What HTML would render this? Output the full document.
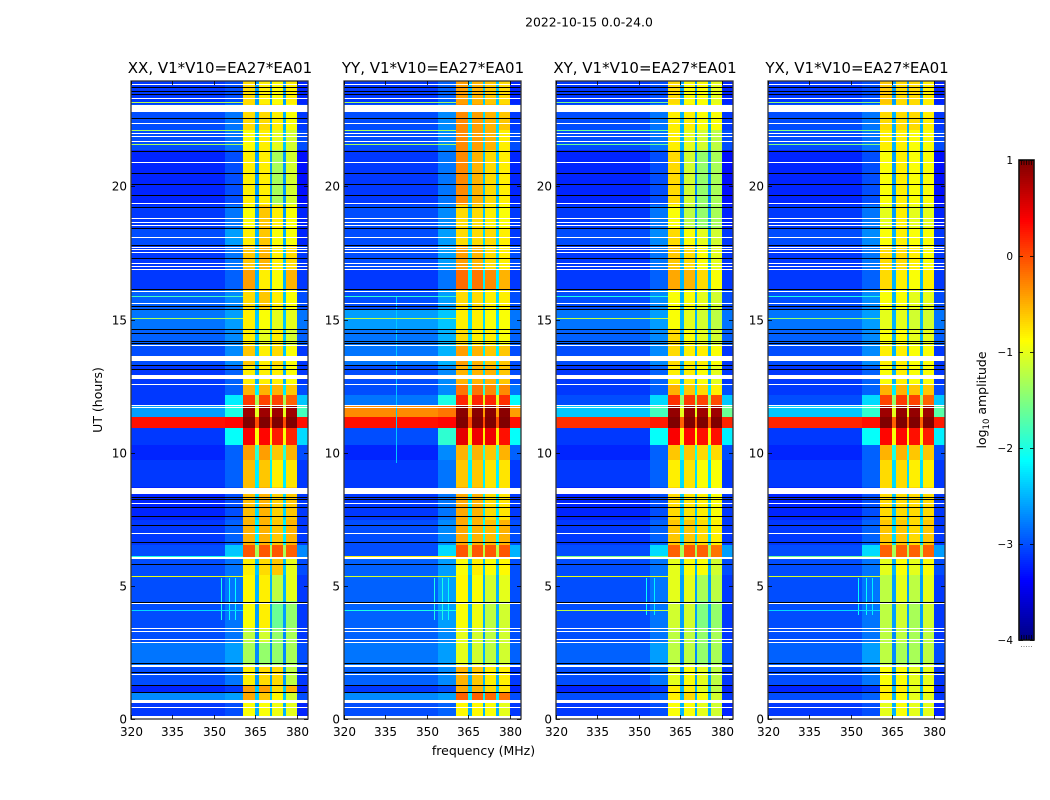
<!DOCTYPE html>
<html lang="en">
<head>
<meta charset="utf-8">
<title>2022-10-15 0.0-24.0</title>
<style>
html,body{margin:0;padding:0;background:#fff;width:1050px;height:800px;overflow:hidden}
svg{display:block}
text{font-family:"DejaVu Sans","Liberation Sans",sans-serif;fill:#000}
</style>
</head>
<body>
<svg id="chart" xmlns="http://www.w3.org/2000/svg" width="1050" height="800" viewBox="0 0 1050 800">
  <text x="589" y="26.500" font-size="12.400" text-anchor="middle">2022-10-15 0.0-24.0</text>
  <text x="483.500" y="755" font-size="12.500" text-anchor="middle">frequency (MHz)</text>
  <text x="102" y="400" font-size="12.500" text-anchor="middle" transform="rotate(-90 102 400)">UT (hours)</text>
  <text x="986" y="400" font-size="12.500" text-anchor="middle" transform="rotate(-90 986 400)">log<tspan font-size="8.500" dy="3">10</tspan><tspan dy="-3"> amplitude</tspan></text>
  <g id="panels"></g>
  <g id="colorbar"></g>
</svg>
<script>
// ---------- data ----------
const polarisations = ["XX", "YY", "XY", "YX"];
const xTickValues = [320, 335, 350, 365, 380];
const yTickValues = [0, 5, 10, 15, 20];
const colorTickValues = [1, 0, -1, -2, -3, -4];

// Time-band boundaries (UT hours, top to bottom of the plot)
const utEdges = [23.96,23.09,22.12,21.37,19.30,18.44,17.80,16.86,16.11,15.36,14.61,14.04,13.26,12.54,12.17,11.75,11.34,10.93,10.29,9.73,8.71,7.47,6.53,6.05,5.41,4.43,3.42,2.85,2.03,1.28,1.01,0.68,0];

// log10 amplitude per band; columns: left, mid, sub-band 1..4, gap, right
const xxBands = [
[-3.1,-3.0,-.7,-.8,-.9,-.8,-2.6,-3.2],[-3.0,-2.8,-.7,-.7,-.8,-.9,-2.5,-3.1],[-3.0,-2.8,-.9,-.8,-1.0,-1.1,-2.4,-3.0],[-3.2,-3.0,-.8,-.8,-1.3,-1.1,-2.6,-3.3],
[-3.1,-2.8,-.9,-.6,-.8,-.9,-2.6,-3.2],[-3.0,-2.6,-.8,-.6,-.9,-.9,-2.5,-3.2],[-3.1,-2.8,-.6,-.5,-.8,-.7,-2.4,-3.1],[-3.1,-2.9,-.4,-.8,-.9,-.5,-2.5,-3.1],
[-2.9,-2.7,-.7,-.6,-.8,-.9,-2.4,-3.0],[-2.8,-2.6,-.8,-.9,-1.0,-1.0,-2.4,-2.8],[-2.9,-2.7,-.8,-1.0,-.8,-1.1,-2.4,-2.9],[-3.0,-2.7,-.6,-.8,-.7,-.9,-2.4,-3.1],
[-3.1,-2.9,-.8,-.8,-.8,-.9,-2.5,-3.1],[-3.1,-2.9,-.5,-.5,-.5,-.6,-2.2,-3.0],[-3.1,-2.2,.1,.05,.05,-.1,-1.3,-2.4],[-2.6,-2.0,.85,.85,.85,.85,-1.0,-1.8],
[.3,.35,1,1,1,1,0,.3],[-3.1,-2.1,.4,.35,.25,.2,-.9,-2.3],[-3.2,-2.9,-.4,-.4,-.6,-.5,-1.9,-3.0],[-3.1,-2.9,-.55,-.6,-.8,-.75,-2.2,-3.1],
[-3.2,-3.0,-.55,-.5,-.65,-.6,-2.3,-3.1],[-3.1,-2.9,-.5,-.5,-.6,-.5,-2.2,-3.1],[-3.0,-2.4,-.05,-.05,-.05,-.1,-1.3,-2.7],[-3.0,-2.8,-.8,-.7,-.6,-1.0,-2.4,-3.0],
[-3.0,-2.8,-.85,-.8,-1.2,-1.0,-2.5,-3.1],[-3.0,-2.8,-.9,-.8,-1.6,-1.4,-2.6,-3.1],[-3.0,-2.8,-1.2,-1.1,-1.4,-1.3,-2.7,-3.1],[-2.8,-2.6,-1.3,-1.4,-1.4,-1.3,-2.7,-3.0],
[-3.0,-2.8,-.8,-.7,-.7,-1.2,-2.6,-3.1],[-3.2,-3.1,-.4,-.4,-.7,-.5,-2.4,-3.2],[-2.7,-2.6,-.45,-.6,-.85,-1.1,-2.4,-3.0],[-3.1,-3.0,-.9,-.9,-.95,-1.0,-2.5,-3.2]
];
const yyBands = [
[-3.1,-2.9,-.4,-.5,-.6,-.7,-2.4,-3.2],[-3.0,-2.7,-.3,-.4,-.5,-.6,-2.3,-3.1],[-3.0,-2.7,-.3,-.4,-.5,-.8,-2.3,-3.0],[-3.1,-2.8,-.3,-.5,-.7,-.8,-2.4,-3.2],
[-3.0,-2.7,-.7,-.7,-.8,-.9,-2.4,-3.1],[-3.0,-2.6,-.7,-.7,-.7,-.8,-2.3,-3.1],[-3.0,-2.6,-.4,-.5,-.7,-.8,-2.3,-3.0],[-3.1,-2.8,-.15,-.2,-.3,-.5,-2.2,-3.1],
[-3.0,-2.6,-.7,-.7,-.8,-.8,-2.3,-3.0],[-2.6,-2.4,-.8,-.8,-.9,-.9,-2.3,-2.8],[-2.8,-2.5,-.7,-.8,-.8,-.9,-2.3,-2.9],[-2.8,-2.5,-.4,-.5,-.6,-.6,-2.2,-3.0],
[-3.0,-2.7,-.5,-.5,-.5,-.6,-2.3,-3.0],[-3.0,-2.7,-.2,-.2,-.3,-.3,-1.9,-2.8],[-2.8,-2.0,.2,.2,.2,.15,-1.0,-2.1],[-.3,-.2,.95,.95,.95,.95,-.4,-.4],
[.3,.35,1,1,1,1,0,.3],[-3.0,-1.9,.5,.45,.45,.3,-.8,-2.1],[-3.2,-2.7,-.5,-.5,-.6,-.5,-1.9,-2.9],[-3.1,-2.8,-.6,-.6,-.75,-.75,-2.2,-3.1],
[-3.1,-2.8,-.45,-.5,-.7,-.75,-2.2,-3.1],[-3.0,-2.7,-.45,-.5,-.55,-.5,-2.1,-3.0],[-3.0,-2.3,-.05,-.05,-.05,-.05,-1.2,-2.5],[-2.9,-2.6,-.9,-.8,-.9,-.85,-2.4,-3.0],
[-2.9,-2.6,-.85,-.9,-1.1,-1,-2.5,-3.0],[-2.9,-2.6,-.9,-.95,-1.2,-1.1,-2.5,-3.0],[-2.9,-2.7,-1.0,-1.1,-1.2,-1.1,-2.6,-3.0],[-2.8,-2.6,-1.0,-1.1,-1.2,-1.1,-2.5,-2.9],
[-2.9,-2.7,-.5,-.6,-.8,-.8,-2.5,-3.1],[-3.1,-3.0,-.45,-.5,-.7,-.75,-2.4,-3.2],[-2.7,-2.6,-.1,-.1,-.15,-.2,-2.2,-3.0],[-3.0,-2.9,-.85,-.85,-.9,-1,-2.5,-3.1]
];
const xyBands = [
[-3.1,-3.0,-.7,-.9,-.9,-1,-2.6,-3.2],[-3.0,-2.8,-.8,-.8,-.9,-.9,-2.5,-3.1],[-3.0,-2.8,-.8,-1.0,-1.1,-1.2,-2.5,-3.0],[-3.2,-3.0,-.7,-1.1,-1.4,-1.3,-2.7,-3.3],
[-3.1,-2.8,-.9,-1.2,-1.4,-1.3,-2.6,-3.2],[-3.0,-2.7,-.7,-.9,-1,-1.1,-2.5,-3.1],[-3.1,-2.8,-.6,-.7,-.9,-1,-2.5,-3.1],[-3.1,-2.9,-.45,-.5,-.7,-.9,-2.5,-3.1],
[-3.0,-2.7,-.9,-.9,-1,-1.1,-2.5,-3.0],[-2.8,-2.6,-.9,-1,-1.1,-1.2,-2.5,-2.8],[-2.9,-2.7,-.7,-.9,-1,-1.1,-2.5,-2.9],[-3.0,-2.7,-.7,-.8,-.8,-.9,-2.5,-3.1],
[-3.1,-2.9,-.8,-.8,-.9,-1,-2.5,-3.1],[-3.1,-2.9,-.5,-.6,-.7,-.8,-2.2,-3.0],[-3.0,-2.3,.15,.1,.05,0,-1.4,-2.4],[-2.4,-1.8,.9,.9,.85,.85,-1.0,-1.6],
[.15,.25,1,1,1,1,-.1,.2],[-3.1,-2.1,.4,.35,.3,.3,-.9,-2.2],[-3.2,-2.9,-.6,-.6,-.7,-.7,-2.0,-3.0],[-3.1,-2.9,-.8,-.75,-.9,-.9,-2.3,-3.1],
[-3.2,-3.0,-.7,-.75,-.8,-.9,-2.4,-3.1],[-3.1,-2.9,-.6,-.6,-.7,-.8,-2.3,-3.1],[-3.0,-2.3,-.1,-.05,-.1,-.2,-1.3,-2.6],[-3.0,-2.8,-1,-.9,-.9,-1.1,-2.5,-3.0],
[-3.0,-2.8,-1,-1.0,-1.3,-1.2,-2.6,-3.1],[-3.0,-2.8,-1.1,-1.1,-1.5,-1.4,-2.6,-3.1],[-3.0,-2.8,-1.2,-1.2,-1.4,-1.3,-2.7,-3.1],[-2.9,-2.6,-1.2,-1.2,-1.4,-1.3,-2.7,-3.0],
[-3.0,-2.8,-1,-.9,-1,-1.2,-2.6,-3.1],[-3.2,-3.1,-.8,-.8,-1,-1.2,-2.5,-3.2],[-3.0,-2.9,-.8,-.7,-.9,-1.1,-2.5,-3.1],[-3.1,-3.0,-.9,-.9,-1,-1.1,-2.5,-3.2]
];
const yxBands = [
[-3.1,-3.0,-.6,-.7,-.7,-.8,-2.6,-3.2],[-3.0,-2.8,-.7,-.7,-.7,-.8,-2.5,-3.1],[-3.0,-2.8,-.8,-.8,-.9,-.9,-2.5,-3.0],[-3.2,-3.0,-.9,-.8,-.9,-.9,-2.6,-3.3],
[-3.1,-2.8,-1,-.8,-1,-1,-2.6,-3.2],[-3.0,-2.7,-.9,-.8,-.9,-.9,-2.5,-3.1],[-3.1,-2.8,-.7,-.7,-.8,-.9,-2.5,-3.1],[-3.1,-2.9,-.7,-.8,-.9,-.8,-2.5,-3.1],
[-3.0,-2.7,-.9,-.9,-1,-1,-2.5,-3.0],[-2.8,-2.6,-1,-1,-1.1,-1.1,-2.5,-2.8],[-2.9,-2.7,-.9,-.9,-1,-1,-2.5,-2.9],[-3.0,-2.7,-.8,-.8,-.9,-.9,-2.5,-3.1],
[-3.1,-2.9,-.9,-.8,-.9,-.9,-2.5,-3.1],[-3.1,-2.9,-.5,-.5,-.6,-.6,-2.2,-3.0],[-3.0,-2.3,.05,.1,.05,-.1,-1.4,-2.4],[-2.4,-1.9,.85,.9,.9,.85,-1.0,-1.7],
[.2,.3,1,1,1,1,-.1,.25],[-3.1,-2.1,.35,.35,.3,.25,-.9,-2.2],[-3.2,-2.9,-.5,-.5,-.6,-.6,-2.0,-3.0],[-3.1,-2.9,-.7,-.7,-.8,-.8,-2.3,-3.1],
[-3.2,-3.0,-.7,-.7,-.7,-.7,-2.4,-3.1],[-3.1,-2.9,-.6,-.6,-.7,-.6,-2.3,-3.1],[-3.0,-2.3,-.1,-.1,-.1,-.1,-1.3,-2.6],[-3.0,-2.8,-1,-.9,-1,-.9,-2.5,-3.0],
[-3.0,-2.8,-1.2,-1,-1.2,-1,-2.6,-3.1],[-3.0,-2.8,-1.2,-1.1,-1.3,-1.1,-2.6,-3.1],[-3.0,-2.8,-1.2,-1.2,-1.3,-1.2,-2.7,-3.1],[-2.9,-2.6,-1.2,-1.3,-1.3,-1.2,-2.7,-3.0],
[-3.0,-2.8,-.9,-.9,-1,-1,-2.6,-3.1],[-3.2,-3.1,-.8,-.8,-1,-.9,-2.5,-3.2],[-3.0,-2.9,-.8,-.9,-1,-1,-2.5,-3.1],[-3.1,-3.0,-1,-.9,-1,-1,-2.5,-3.2]
];
const bandTables = [xxBands, yyBands, xyBands, yxBands];

// Flagged rows: thin white lines, thick white gaps, black zero-amplitude rows (UT hours)
const whiteLines = [23.85,23.32,22.38,22.01,21.89,21.70,20.92,19.38,18.81,18.66,18.55,18.10,17.72,17.65,17.54,17.12,17.01,16.90,16.07,15.62,14.04,12.58,11.79,11.72,8.11,6.98,4.36,3.42,3.30,3.00,2.89,1.69,0.45];
const whiteGapStarts = [22.79,13.44,12.77,8.45,6.01,1.95,0.60,0];
const whiteGapEnds = [23.06,13.63,12.92,8.69,6.08,2.03,0.71,0.11];
const blackLines = [23.73,23.58,23.47,22.57,21.33,20.50,20.09,19.68,19.23,18.44,17.80,17.31,16.15,15.51,15.40,14.64,14.49,14.19,14.12,13.29,13.14,8.34,8.26,7.96,7.62,7.27,6.65,5.82,4.39,2.10,1.76,1.28,1.01];

// Interference rows: UT hour and level in each polarisation
const rfiHours = [23.17,22.12,21.59,19.21,18.10,15.88,15.06,6.12,5.37,4.09];
const rfiLevelsXX = [-1.2,-1.3,-1.3,-1.6,-1.3,-1.8,-1.3,-2.0,-1.0,-2.3];
const rfiLevelsYY = [-1.3,-1.3,-1.3,-1.7,-1.5,-1.9,-1.2,-0.8,-1.1,-2.0];
const rfiLevelsXY = [-1.5,-1.6,-1.6,-1.9,-1.6,-2.0,-1.2,-1.5,-1.0,-1.2];
const rfiLevelsYX = [-1.4,-1.5,-1.5,-1.8,-1.6,-2.0,-1.4,-1.6,-1.1,-2.3];
const rfiTables = [rfiLevelsXX, rfiLevelsYY, rfiLevelsXY, rfiLevelsYX];

// Interference channels: panel index, frequency (MHz), UT range, level
const rfiChannelPanels = [0,0,0,1,1,1,1,2,2,3,3,3];
const rfiChannelFreqs = [352.5,355.5,357.5,339,352.5,355.5,357.5,352.5,355.5,352.5,355.5,357.5];
const rfiChannelUtLow = [3.7,3.7,3.7,9.6,3.7,3.7,3.7,3.9,3.9,3.9,3.9,3.9];
const rfiChannelUtHigh = [5.3,5.3,5.3,15.9,5.3,5.3,5.3,5.3,5.3,5.3,5.3,5.3];
const rfiChannelLevels = [-2.0,-2.1,-2.1,-2.4,-2.0,-2.0,-2.1,-2.1,-2.2,-2.1,-2.1,-2.2];

// ---------- scales ----------
const SVGNS = "http://www.w3.org/2000/svg";
const FREQ_MIN = 320, FREQ_MAX = 384.1, UT_TOP = 23.96;
const PANEL_W = 177, PANEL_TOP = 81, PANEL_BOTTOM = 719;
const PANEL_OFFSET = { 0: 131, 1: 344, 2: 556, 3: 768 };
const CB_LEFT = 1019, CB_RIGHT = 1034, CB_TOP = 160, CB_BOTTOM = 640;
// frequency boundaries of the band columns (the gap column repeats three times)
const colStart = [320, 354, 360.6, 366.2, 371, 376, 365, 370.3, 375, 380];
const colEnd = [354, 360.6, 365, 370.3, 375, 380, 366.2, 371, 376, 384.1];
const colSource = [0, 1, 2, 3, 4, 5, 6, 6, 6, 7];

function xScale(f, left) { return left + (f - FREQ_MIN) / (FREQ_MAX - FREQ_MIN) * PANEL_W; }
function yScale(ut) { return PANEL_BOTTOM - ut * (PANEL_BOTTOM - PANEL_TOP) / UT_TOP; }
function cScale(v) { return CB_BOTTOM - (v + 4) / 5 * (CB_BOTTOM - CB_TOP); }

function jet(v) {
  const t = Math.max(0, Math.min(1, (v + 4) / 5));
  const ramp = (p) => Math.max(0, Math.min(1, 1.5 - Math.abs(4 * t - p)));
  const r = Math.round(255 * ramp(3));
  const g = Math.round(255 * ramp(2));
  const b = Math.round(255 * ramp(1));
  return "rgb(" + r + "," + g + "," + b + ")";
}
function make(tag, parent) {
  const el = document.createElementNS(SVGNS, tag);
  parent.appendChild(el);
  return el;
}
function hRow(parent, left, fromF, toF, yTop, yBot, fill) {
  const r = make("rect", parent);
  const x0 = Math.round(xScale(fromF, left));
  const x1 = Math.round(xScale(toF, left));
  r.setAttribute("x", x0);
  r.setAttribute("width", Math.max(1, x1 - x0));
  r.setAttribute("y", yTop);
  r.setAttribute("height", Math.max(1, yBot - yTop));
  r.setAttribute("fill", fill);
  r.setAttribute("shape-rendering", "crispEdges");
  return r;
}
function lineEl(parent, x1, y1, x2, y2, color, w) {
  const l = make("line", parent);
  l.setAttribute("x1", x1);
  l.setAttribute("y1", y1);
  l.setAttribute("x2", x2);
  l.setAttribute("y2", y2);
  l.setAttribute("stroke", color);
  l.setAttribute("stroke-width", w);
  return l;
}

// ---------- panels ----------
const root = document.getElementById("panels");
polarisations.forEach(function (pol, p) {
  const left = PANEL_OFFSET[p];
  const g = make("g", root);
  
  

  const title = make("text", g);
  
  
  title.setAttribute("x", left + PANEL_W / 2 + 0.5);
  title.setAttribute("y", 73);
  title.setAttribute("font-size", "15");
  title.setAttribute("text-anchor", "middle");
  title.textContent = pol + ", V1*V10=EA27*EA01";

  bandTables[p].forEach(function (row, b) {
    const yTop = Math.round(yScale(utEdges[b]));
    const yBot = Math.round(yScale(utEdges[b + 1]));
    colStart.forEach(function (fs, c) {
      const cell = hRow(g, left, fs, colEnd[c], yTop, yBot, jet(row[colSource[c]]));
      
      
    });
  });

  rfiChannelFreqs.forEach(function (f, i) {
    if (rfiChannelPanels[i] !== p) return;
    const ch = hRow(g, left, f, f + 0.3, Math.round(yScale(rfiChannelUtHigh[i])), Math.round(yScale(rfiChannelUtLow[i])), jet(rfiChannelLevels[i]));
    
    
  });

  rfiHours.forEach(function (ut, i) {
    const yy = Math.round(yScale(ut));
    const rfi = hRow(g, left, FREQ_MIN, 360.6, yy, yy + 1, jet(rfiTables[p][i]));
    
    
  });

  whiteGapStarts.forEach(function (ut, i) {
    const gap = hRow(g, left, FREQ_MIN, FREQ_MAX, Math.round(yScale(whiteGapEnds[i])), Math.round(yScale(ut)), "#fff");
    
    
  });
  whiteLines.forEach(function (ut) {
    const yy = Math.round(yScale(ut));
    const wl = hRow(g, left, FREQ_MIN, FREQ_MAX, yy, yy + 1, "#fff");
    
    
  });
  blackLines.forEach(function (ut) {
    const yy = Math.round(yScale(ut));
    const bl = hRow(g, left, FREQ_MIN, FREQ_MAX, yy, yy + 1, "#000");
    
    
  });

  const frame = make("rect", g);
  
  
  frame.setAttribute("x", left);
  frame.setAttribute("y", PANEL_TOP);
  frame.setAttribute("width", PANEL_W);
  frame.setAttribute("height", PANEL_BOTTOM - PANEL_TOP);
  frame.setAttribute("fill", "none");
  frame.setAttribute("stroke", "#333");
  frame.setAttribute("stroke-width", "1.3");

  xTickValues.forEach(function (f) {
    const px = Math.round(xScale(f, left)) + 0.5;
    const t1 = lineEl(g, px, PANEL_BOTTOM, px, PANEL_BOTTOM - 4, "#000", 0.8);
    
    
    const t2 = lineEl(g, px, PANEL_TOP, px, PANEL_TOP + 4, "#000", 0.8);
    
    
    const lab = make("text", g);
    
    
    lab.setAttribute("x", px);
    lab.setAttribute("y", 736);
    lab.setAttribute("font-size", "12");
    lab.setAttribute("text-anchor", "middle");
    lab.textContent = f;
  });
  yTickValues.forEach(function (ut) {
    const py = Math.round(yScale(ut)) + 0.5;
    const t1 = lineEl(g, left, py, left + 4, py, "#000", 0.8);
    
    
    const t2 = lineEl(g, left + PANEL_W, py, left + PANEL_W - 4, py, "#000", 0.8);
    
    
    const lab = make("text", g);
    
    
    lab.setAttribute("x", left - 4);
    lab.setAttribute("y", py + 4);
    lab.setAttribute("font-size", "12");
    lab.setAttribute("text-anchor", "end");
    lab.textContent = ut;
  });
});

// ---------- colorbar ----------
const cb = document.getElementById("colorbar");
for (let py = CB_TOP; py < CB_BOTTOM; py += 2) {
  const v = 1 - (py - CB_TOP) / (CB_BOTTOM - CB_TOP) * 5;
  const seg = make("rect", cb);
  
  
  seg.setAttribute("x", CB_LEFT);
  seg.setAttribute("y", py);
  seg.setAttribute("width", CB_RIGHT - CB_LEFT);
  seg.setAttribute("height", 2);
  seg.setAttribute("fill", jet(v));
  seg.setAttribute("shape-rendering", "crispEdges");
}
const cbFrame = make("rect", cb);


cbFrame.setAttribute("x", CB_LEFT);
cbFrame.setAttribute("y", CB_TOP);
cbFrame.setAttribute("width", CB_RIGHT - CB_LEFT);
cbFrame.setAttribute("height", CB_BOTTOM - CB_TOP);
cbFrame.setAttribute("fill", "none");
cbFrame.setAttribute("stroke", "#111");
cbFrame.setAttribute("stroke-width", "1.6");
colorTickValues.forEach(function (v) {
  const py = Math.round(cScale(v)) + 0.5;
  const t1 = lineEl(cb, CB_LEFT, py, CB_LEFT + 4, py, "#000", 0.8);
  
  
  const t2 = lineEl(cb, CB_RIGHT, py, CB_RIGHT - 4, py, "#000", 0.8);
  
  
  const lab = make("text", cb);
  
  
  lab.setAttribute("x", 1013);
  lab.setAttribute("y", py + 3.5);
  lab.setAttribute("font-size", "10.5");
  lab.setAttribute("text-anchor", "end");
  lab.textContent = String(v).replace("-", "\u2212");
});
for (let i = 1; i <= 5; i++) {
  const mx = CB_LEFT + i * (CB_RIGHT - CB_LEFT) / 6;
  const m1 = lineEl(cb, mx, CB_TOP, mx, CB_TOP + 5, "#000", 0.7);
  
  
  const m2 = lineEl(cb, mx, CB_BOTTOM, mx, CB_BOTTOM - 5, "#000", 0.7);
  
  
  const dot = make("rect", cb);
  
  
  dot.setAttribute("x", mx - 0.5);
  dot.setAttribute("y", 646);
  dot.setAttribute("width", 1);
  dot.setAttribute("height", 1);
  dot.setAttribute("fill", "#888");
}
</script>
</body>
</html>
